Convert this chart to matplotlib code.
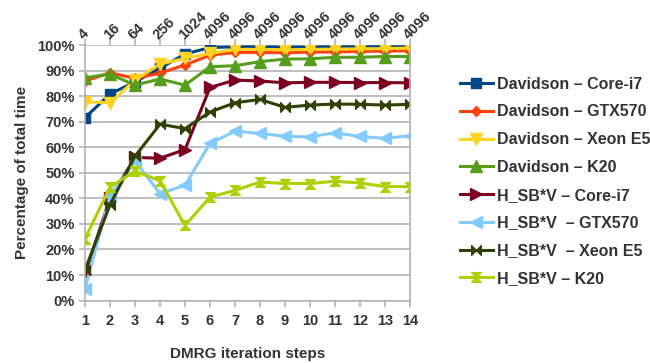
import matplotlib
matplotlib.use("Agg")
import matplotlib.pyplot as plt
from matplotlib.path import Path

# -------------------------------
# Data
# -------------------------------
steps = list(range(1, 15))
top_labels = ["4", "16", "64", "256", "1024"] + ["4096"] * 9

dav_core_i7 = [71.6, 80.8, 85.6, 90.9, 96.5, 99.0, 99.3, 99.3, 99.2, 99.2, 99.3, 99.3, 99.3, 99.3]
dav_gtx570 = [85.9, 89.1, 87.0, 89.0, 92.2, 96.0, 97.1, 97.1, 97.0, 97.2, 97.3, 97.5, 97.6, 97.8]
dav_xeon_e5 = [77.8, 77.4, 86.3, 92.5, 94.8, 96.7, 98.3, 98.3, 98.1, 98.3, 98.4, 98.5, 98.6, 98.8]
dav_k20 = [87.2, 88.6, 84.3, 86.7, 84.3, 91.5, 91.9, 93.5, 94.5, 94.6, 95.2, 95.2, 95.5, 95.5]

hsv_core_i7 = [10.5, 40.0, 56.0, 55.7, 59.1, 83.4, 86.3, 85.9, 85.2, 85.4, 85.4, 85.3, 85.3, 85.2]
hsv_gtx570 = [4.6, 41.0, 54.6, 41.8, 45.1, 61.5, 66.3, 65.4, 64.3, 64.0, 65.7, 64.2, 63.5, 64.5]
hsv_xeon_e5 = [12.0, 37.5, 56.5, 69.0, 67.3, 73.8, 77.4, 78.7, 75.6, 76.5, 76.9, 76.8, 76.5, 76.8]
hsv_k20 = [24.2, 44.4, 50.7, 46.8, 29.4, 40.5, 43.1, 46.4, 45.8, 45.8, 46.7, 46.0, 44.6, 44.6]

# LibreOffice style bowtie and sandglass symbols
bowtie = Path(
    [(-1, -1), (0, 0), (-1, 1), (-1, -1), (1, -1), (0, 0), (1, 1), (1, -1)],
    [Path.MOVETO, Path.LINETO, Path.LINETO, Path.CLOSEPOLY,
     Path.MOVETO, Path.LINETO, Path.LINETO, Path.CLOSEPOLY],
)
sandglass = Path(
    [(-1, 1), (1, 1), (0, 0), (-1, 1), (-1, -1), (1, -1), (0, 0), (-1, -1)],
    [Path.MOVETO, Path.LINETO, Path.LINETO, Path.CLOSEPOLY,
     Path.MOVETO, Path.LINETO, Path.LINETO, Path.CLOSEPOLY],
)

series = [
    ("Davidson – Core-i7", dav_core_i7, "#004586", "s", 7),
    ("Davidson – GTX570", dav_gtx570, "#ff420e", "D", 5),
    ("Davidson – Xeon E5", dav_xeon_e5, "#ffd320", "v", 8),
    ("Davidson – K20", dav_k20, "#579d1c", "^", 8),
    ("H_SB*V – Core-i7", hsv_core_i7, "#7e0021", ">", 8),
    ("H_SB*V  – GTX570", hsv_gtx570, "#83caff", "<", 8),
    ("H_SB*V  – Xeon E5", hsv_xeon_e5, "#314004", bowtie, 7),
    ("H_SB*V – K20", hsv_k20, "#aecf00", sandglass, 7),
]

plt.rcParams["font.family"] = ["Liberation Sans", "DejaVu Sans"]
plt.rcParams["font.weight"] = "bold"
text_color = "#333333"
grid_color = "#b3b3b3"

fig = plt.figure(figsize=(6.5, 3.63), dpi=100)
ax = fig.add_axes([0.1308, 0.172, 0.5, 0.704])

for label, vals, color, marker, ms in series:
    ax.plot(steps, vals, color=color, marker=marker, markersize=ms,
            markeredgecolor=color, markerfacecolor=color, linewidth=2.2,
            solid_joinstyle="round", label=label)

ax.set_xlim(1, 14)
ax.set_ylim(0, 100)
ax.set_xticks(steps)
ax.set_yticks(range(0, 101, 10))
ax.set_yticklabels([f"{v}%" for v in range(0, 101, 10)])
ax.yaxis.grid(True, color=grid_color, linewidth=1.2)
ax.set_axisbelow(True)

for side in ["left", "bottom", "right"]:
    ax.spines[side].set_color(grid_color)
    ax.spines[side].set_linewidth(1.2)
ax.spines["top"].set_visible(False)

ax.tick_params(axis="both", colors=grid_color, length=4, width=1.2,
               labelsize=10.5, labelcolor=text_color)
ax.tick_params(axis="x", pad=6)

# top axis: tick marks plus slanted size labels
top = ax.secondary_xaxis("top")
top.set_xticks(steps)
top.set_xticklabels([])
top.spines["top"].set_visible(False)
top.tick_params(axis="x", colors=grid_color, length=4, width=1.2)
for s, lab in zip(steps, top_labels):
    ax.annotate(lab, xy=(s, 1), xycoords=("data", "axes fraction"),
                xytext=(-3, 6), textcoords="offset points",
                rotation=45, ha="left", va="center", rotation_mode="anchor",
                fontsize=10.5, color=text_color, fontweight="bold",
                annotation_clip=False)

ax.set_xlabel("DMRG iteration steps", fontsize=11, color=text_color,
              fontweight="bold", labelpad=13)
ax.set_ylabel("Percentage of total time", fontsize=11, color=text_color,
              fontweight="bold", labelpad=6)

leg = fig.legend(loc="upper left", bbox_to_anchor=(0.7077, 0.789),
                 frameon=False, fontsize=11.5, numpoints=1,
                 handlelength=2.06, handletextpad=0.25, labelspacing=0.8,
                 borderaxespad=0, borderpad=0)
for t in leg.get_texts():
    t.set_color(text_color)

fig.savefig("out.png", dpi=100)
